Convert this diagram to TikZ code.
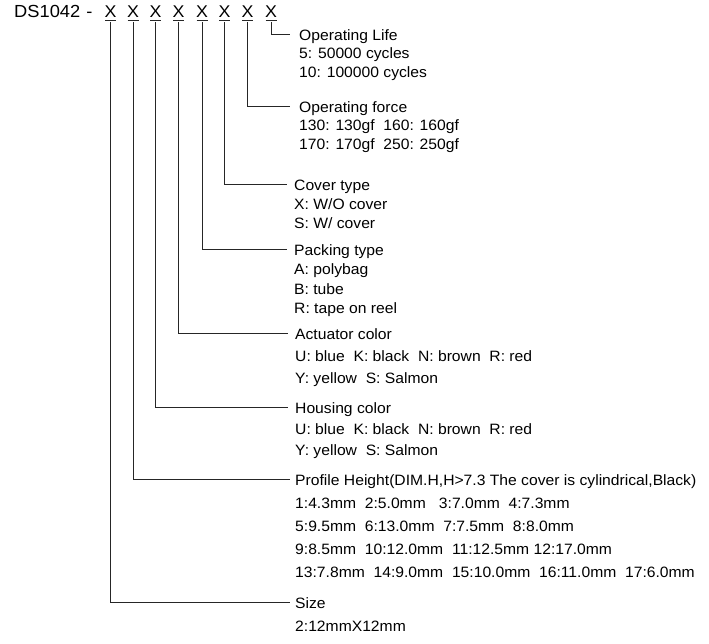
\documentclass[tikz,border=0pt]{standalone}
\usepackage{fontspec}
\setmainfont[FakeStretch=1.045]{Liberation Sans}
\newcommand\grplines[2]{\fontsize{15}{#1}\selectfont\vtop{#2}}
\begin{document}
\begin{tikzpicture}[x=1pt,y=-1pt,
  hdr/.style={inner sep=0pt, font=\fontsize{17}{18}\selectfont, text=black},
  lbl/.style={inner sep=0pt, anchor=base west, text=black},
  conn/.style={draw=black!85, line width=0.8pt},
  uline/.style={draw=black!85, line width=0.8pt}]
\useasboundingbox (0,0) rectangle (709,644);

\node[hdr, anchor=base west] (ds) at (14,18) {\fontsize{17.5}{18}\selectfont DS1042\hspace{6pt}-};
\foreach \i/\x in {1/110.5,2/133,3/155.5,4/178.5,5/202,6/224.5,7/247.5,8/271}{
  \node[hdr, anchor=base] (x\i) at (\x,18) {X};
  \draw[uline] ([xshift=-5.5pt,yshift=-2.5pt]x\i.base) -- ([xshift=5.5pt,yshift=-2.5pt]x\i.base);
}

\coordinate (e8) at (290,34);
\coordinate (e7) at (290,106);
\coordinate (e6) at (287,184);
\coordinate (e5) at (287,249);
\coordinate (e4) at (288,333);
\coordinate (e3) at (288,407);
\coordinate (e2) at (290,479);
\coordinate (e1) at (290,602);

\foreach \i in {1,...,8}{
  \draw[conn] ([yshift=-4pt]x\i.base) |- (e\i);
}

\node[lbl] (life) at ([xshift=9pt,yshift=-6.5pt]e8) {\grplines{18.5}{\hbox{Operating Life}\hbox{5: 50000 cycles}\hbox{10: 100000 cycles}}};
\node[lbl] (force) at ([xshift=9pt,yshift=-6.5pt]e7) {\grplines{18.5}{\hbox{Operating force}\hbox{130: 130gf~ 160: 160gf}\hbox{170: 170gf~ 250: 250gf}}};
\node[lbl] (cover) at ([xshift=7pt,yshift=-6.5pt]e6) {\grplines{19}{\hbox{Cover type}\hbox{X: W/O cover}\hbox{S: W/ cover}}};
\node[lbl] (pack) at ([xshift=7pt,yshift=-6.5pt]e5) {\grplines{19.5}{\hbox{Packing type}\hbox{A: polybag}\hbox{B: tube}\hbox{R: tape on reel}}};
\node[lbl] (act) at ([xshift=7pt,yshift=-6.5pt]e4) {\grplines{22}{\hbox{Actuator color}\hbox{U: blue~ K: black~ N: brown~ R: red}\hbox{Y: yellow~ S: Salmon}}};
\node[lbl] (hous) at ([xshift=7pt,yshift=-6.5pt]e3) {\grplines{21}{\hbox{Housing color}\hbox{U: blue~ K: black~ N: brown~ R: red}\hbox{Y: yellow~ S: Salmon}}};
\node[lbl] (prof) at ([xshift=5pt,yshift=-6.5pt]e2) {\grplines{23}{\hbox{Profile Height(DIM.H,H>7.3 The cover is cylindrical,Black)}\hbox{1:4.3mm~ 2:5.0mm~~ 3:7.0mm~ 4:7.3mm}\hbox{5:9.5mm~ 6:13.0mm~ 7:7.5mm~ 8:8.0mm}\hbox{9:8.5mm~ 10:12.0mm~ 11:12.5mm 12:17.0mm}\hbox{13:7.8mm~ 14:9.0mm~ 15:10.0mm~ 16:11.0mm~ 17:6.0mm}}};
\node[lbl] (size) at ([xshift=5pt,yshift=-6.5pt]e1) {\grplines{22.5}{\hbox{Size}\hbox{2:12mmX12mm}}};
\end{tikzpicture}
\end{document}
